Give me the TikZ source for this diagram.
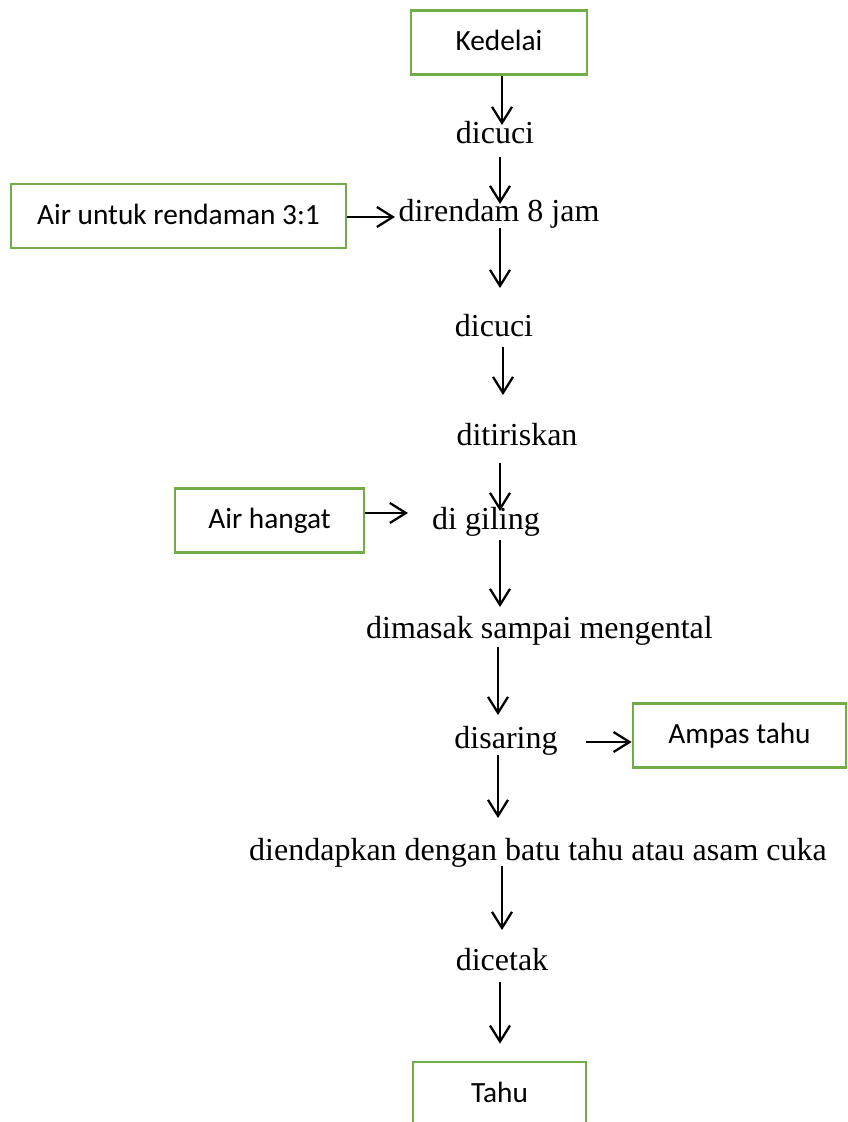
\documentclass[tikz,border=0pt]{standalone}
\usepackage{fontspec}
\setmainfont{Liberation Serif}
\newfontfamily\boxfont{Carlito}
\usetikzlibrary{arrows.meta,calc}

\definecolor{boxgreen}{RGB}{112,173,71}
\tikzset{
  box/.style={draw=boxgreen, line width=2pt, minimum height=48pt, inner sep=0pt,
    font=\boxfont\fontsize{22}{26}\selectfont, text height=14.2pt, text depth=1.5pt},
  proc/.style={anchor=base, inner sep=0pt, font=\fontsize{24}{28}\selectfont},
  arr/.style={-{Straight Barb[length=12pt,width=15pt]}, line width=1.7pt}
}

\begin{document}
\begin{tikzpicture}[x=0.75pt,y=-0.75pt]
\useasboundingbox (0,0) rectangle (848,1122);
\clip (0,0) rectangle (848,1122);

\node[box, minimum width=132pt] (kedelai) at (499,42.5) {Kedelai};
\node[box, minimum width=251.25pt] (airrendam) at (178.5,216) {Air untuk rendaman 3:1};
\node[box, minimum width=141.75pt] (airhangat) at (269.5,520.5) {Air hangat};
\node[box, minimum width=159.75pt] (ampas) at (739.5,735.5) {Ampas tahu};
\node[box, minimum width=129.75pt] (tahu) at (499.5,1094) {Tahu};

\node[proc] (dicuciA) at (495,143) {dicuci};
\node[proc] (direndam) at (499,221) {direndam 8 jam};
\node[proc] (dicuciB) at (494,336) {dicuci};
\node[proc] (ditiriskan) at (517,445) {ditiriskan};
\node[proc] (digiling) at (486,529) {di giling};
\node[proc] (dimasak) at (539.5,638) {dimasak sampai mengental};
\node[proc] (disaring) at (506,748) {disaring};
\node[proc] (diendapkan) at (538,860) {diendapkan dengan batu tahu atau asam cuka};
\node[proc] (dicetak) at (502,970) {dicetak};

\draw[arr] ($(kedelai.south)+(3,0)$) -- ($(dicuciA.base)+(7,-18)$);
\draw[arr] ($(dicuciA.base)+(5,14)$) -- ($(direndam.base)+(1,-17)$);
\draw[arr] ($(direndam.base)+(1,7)$) -- ($(dicuciB.base)+(6,-48)$);
\draw[arr] ($(dicuciB.base)+(9,11)$) -- ($(ditiriskan.base)+(-14,-50)$);
\draw[arr] ($(ditiriskan.base)+(-17,18)$) -- ($(digiling.base)+(14,-18)$);
\draw[arr] ($(digiling.base)+(14,11)$) -- ($(dimasak.base)+(-39.5,-31)$);
\draw[arr] ($(dimasak.base)+(-41.5,9)$) -- ($(disaring.base)+(-8,-33)$);
\draw[arr] ($(disaring.base)+(-8,7)$) -- ($(diendapkan.base)+(-40,-42)$);
\draw[arr] ($(diendapkan.base)+(-36,6)$) -- ($(dicetak.base)+(0,-40)$);
\draw[arr] ($(dicetak.base)+(-2,12)$) -- ($(tahu.north)+(0.5,-17)$);

\draw[arr] ($(airrendam.east)+(0,1)$) -- ($(direndam.base)+(-104,-4)$);
\draw[arr] ($(airhangat.east)+(0,-7.5)$) -- ($(digiling.base)+(-78,-16)$);
\draw[arr] ($(disaring.base)+(80,-6)$) -- ($(ampas.west)+(0,6.5)$);
\end{tikzpicture}
\end{document}
